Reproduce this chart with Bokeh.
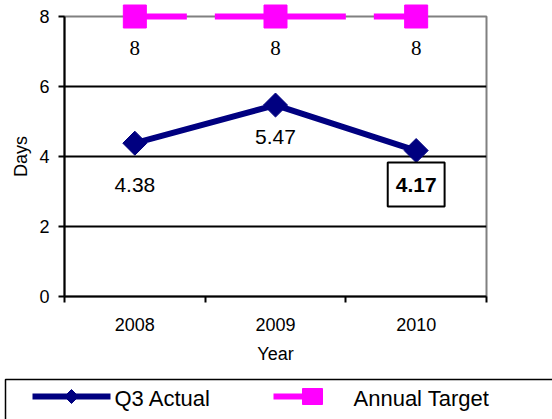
from bokeh.plotting import figure
from bokeh.models import ColumnDataSource, FixedTicker, Range1d, LabelSet, Label
from bokeh.core.properties import value
from bokeh.embed import file_html
from bokeh.resources import INLINE
import numpy as np

# ---- data ----
years = ["2008", "2009", "2010"]
q3_actual = [4.38, 5.47, 4.17]
annual_target = [8, 8, 8]
y_ticks = [0, 2, 4, 6, 8]
series_names = ["Q3 Actual", "Annual Target"]

FONT = "Liberation Sans"
NAVY = "#000080"
PINK = "#FF00FF"

W, H = 552, 419
BL, BR, BT, BB = 64, 66, 16, 123   # borders around the plot area

x_pos = [i + 0.5 for i in range(len(years))]

p = figure(width=W, height=H, output_backend="svg", toolbar_location=None,
           x_range=Range1d(0, len(years)), y_range=Range1d(y_ticks[0], y_ticks[-1]),
           min_border_left=BL, min_border_right=BR, min_border_top=BT, min_border_bottom=BB,
           background_fill_color="white", border_fill_color="white")

p.outline_line_color = "#808080"
p.outline_line_width = 2

# x axis: labels at category centres, ticks at category boundaries
xa = p.xaxis[0]
xa.ticker = FixedTicker(ticks=x_pos, minor_ticks=list(range(len(years) + 1)))
xa.major_label_overrides = {x: y for x, y in zip(x_pos, years)}
xa.major_tick_out = 0
xa.major_tick_in = 0
xa.minor_tick_out = 6
xa.minor_tick_in = 0
xa.minor_tick_line_color = "black"
xa.minor_tick_line_width = 2
xa.axis_line_color = "black"
xa.axis_line_width = 2
xa.major_label_text_font = FONT
xa.major_label_text_font_size = "18px"
xa.major_label_text_color = "black"
xa.major_label_standoff = 15
xa.axis_label = "Year"
xa.axis_label_text_font = FONT
xa.axis_label_text_font_size = "18px"
xa.axis_label_text_font_style = "normal"
xa.axis_label_text_color = "black"
xa.axis_label_standoff = 10

ya = p.yaxis[0]
ya.ticker = FixedTicker(ticks=y_ticks)
ya.major_tick_out = 6
ya.major_tick_in = 0
ya.major_tick_line_color = "black"
ya.major_tick_line_width = 2
ya.minor_tick_out = 0
ya.minor_tick_in = 0
ya.axis_line_color = "black"
ya.axis_line_width = 2
ya.major_label_text_font = FONT
ya.major_label_text_font_size = "18px"
ya.major_label_text_color = "black"
ya.major_label_standoff = 9
ya.axis_label = "Days"
ya.axis_label_text_font = FONT
ya.axis_label_text_font_size = "18px"
ya.axis_label_text_font_style = "normal"
ya.axis_label_text_color = "black"
ya.axis_label_standoff = 5

p.xgrid.visible = False
p.ygrid.ticker = FixedTicker(ticks=y_ticks[1:-1])
p.ygrid.grid_line_color = "black"
p.ygrid.grid_line_width = 2

# ---- series ----
actual_src = ColumnDataSource(dict(x=x_pos, y=q3_actual))
target_src = ColumnDataSource(dict(x=x_pos, y=annual_target,
                                   label=[f"{v:g}" for v in annual_target]))

p.line("x", "y", source=actual_src, line_color=NAVY, line_width=6)
p.scatter("x", "y", source=actual_src, marker="square", angle=np.pi / 4, size=17,
          fill_color=NAVY, line_color=NAVY)
p.line("x", "y", source=target_src, line_color=PINK, line_width=6,
       line_dash="52 28 131 28", level="overlay")
p.scatter("x", "y", source=target_src, marker="square", size=23,
          fill_color=PINK, line_color=PINK, level="overlay")

# ---- data labels ----
p.add_layout(LabelSet(x="x", y="y", text="label", source=target_src, y_offset=-31,
                      text_align="center", text_baseline="middle",
                      text_font=FONT, text_font_size="21px", text_color="black"))

plain_offsets = [-42, -32]
for xv, yv, off in zip(x_pos[:2], q3_actual[:2], plain_offsets):
    p.add_layout(Label(x=xv, y=yv, text=f"{yv:.2f}", y_offset=off,
                       text_align="center", text_baseline="middle",
                       text_font=FONT, text_font_size="21px", text_color="black"))

p.add_layout(Label(x=x_pos[2], y=q3_actual[2], text=f"{q3_actual[2]:.2f}", y_offset=-34,
                   text_align="center", text_baseline="middle",
                   text_font=FONT, text_font_size="21px", text_font_style="bold",
                   text_color="black", border_line_color="black", border_line_width=2,
                   background_fill_color="white", padding=(8, 15)))

# ---- legend key below the chart (pixel coordinate ranges for the key) ----
p.extra_x_ranges = {"px": Range1d(BL, W - BR)}
p.extra_y_ranges = {"px": Range1d(H - BB, BT)}
key = dict(x_range_name="px", y_range_name="px", level="overlay")

LEG_TOP, LEG_LEFT, LEG_MID = 379, 5, 396
p.quad(left=[LEG_LEFT], right=[W + 60], top=[LEG_TOP], bottom=[H + 40],
       fill_color="white", line_color="black", line_width=1.5, **key)

# Q3 Actual key: line + diamond
p.line(x=[32, 110], y=[LEG_MID, LEG_MID], line_color=NAVY, line_width=6, **key)
dcx, dr = 71, 7
p.patch(x=[dcx - dr, dcx, dcx + dr, dcx], y=[LEG_MID, LEG_MID - dr, LEG_MID, LEG_MID + dr],
        fill_color=NAVY, line_color=NAVY, **key)

# Annual Target key: line + square
p.line(x=[273, 322], y=[LEG_MID, LEG_MID], line_color=PINK, line_width=6, **key)
scx, shw, shh = 312, 10, 8
p.patch(x=[scx - shw, scx + shw, scx + shw, scx - shw],
        y=[LEG_MID - shh, LEG_MID - shh, LEG_MID + shh, LEG_MID + shh],
        fill_color=PINK, line_color=PINK, **key)

p.text(x=[114, 353], y=[LEG_MID + 2, LEG_MID + 2], text=series_names,
       text_font=value(FONT), text_font_size=value("22px"), text_color="black",
       text_align="left", text_baseline="middle", **key)

open("out.html", "w").write(file_html(p, INLINE))
